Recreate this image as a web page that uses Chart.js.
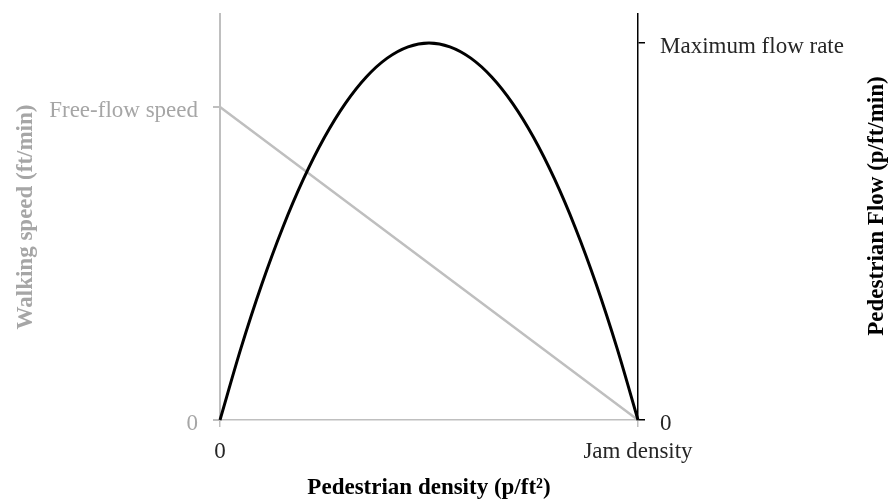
<!DOCTYPE html>
<html>
<head>
<meta charset="utf-8">
<script src="https://cdn.jsdelivr.net/npm/chart.js@4.4.0/dist/chart.umd.min.js"></script>
<style>
    html, body { margin: 0; padding: 0; background: #fff; }
    #wrap { width: 891px; height: 499px; position: relative; }
</style>
</head>
<body>
<div id="wrap"><canvas id="chart"></canvas></div>
<script>
// density as a fraction of jam density
const density = [0, 0.05, 0.1, 0.15, 0.2, 0.25, 0.3, 0.35, 0.4, 0.45, 0.5,
                 0.55, 0.6, 0.65, 0.7, 0.75, 0.8, 0.85, 0.9, 0.95, 1];
// flow as a fraction of maximum flow rate
const flow = [0, 0.19, 0.36, 0.51, 0.64, 0.75, 0.84, 0.91, 0.96, 0.99, 1,
              0.99, 0.96, 0.91, 0.84, 0.75, 0.64, 0.51, 0.36, 0.19, 0];
// speed as a fraction of free-flow speed
const speedDensity = [0, 1];
const speed = [1, 0];

const xTickLabels = ['0', 'Jam density'];
const speedTickLabels = ['0', 'Free-flow speed'];
const flowTickLabels = ['0', 'Maximum flow rate'];

const serif = '"Liberation Serif", "Times New Roman", serif';
const gray = '#bfbfbf';
const grayText = '#a6a6a6';

function twoTicks(scale) {
    scale.ticks = [{ value: 0 }, { value: 1 }];
}

// right axis title reads bottom-to-top in the original, so draw it by hand
const rightTitle = {
    id: 'rightTitle',
    afterDraw(chart) {
        const opts = chart.options.scales.y1.title;
        const ctx = chart.ctx;
        ctx.save();
        ctx.translate(chart.width - 14, 206);
        ctx.rotate(-Math.PI / 2);
        ctx.font = 'bold 23px ' + serif;
        ctx.fillStyle = '#000';
        ctx.textAlign = 'center';
        ctx.textBaseline = 'middle';
        ctx.fillText(opts.text, 0, 0);
        ctx.restore();
    }
};

new Chart(document.getElementById('chart'), {
    type: 'line',
    data: {
        datasets: [
            {
                label: 'Flow',
                data: density.map((d, i) => ({ x: d, y: flow[i] })),
                yAxisID: 'y1',
                borderColor: '#000',
                borderWidth: 3,
                pointRadius: 0,
                cubicInterpolationMode: 'monotone',
                clip: false
            },
            {
                label: 'Speed',
                data: speedDensity.map((d, i) => ({ x: d, y: speed[i] })),
                yAxisID: 'y',
                borderColor: gray,
                borderWidth: 2.5,
                pointRadius: 0,
                clip: false
            }
        ]
    },
    options: {
        responsive: true,
        maintainAspectRatio: false,
        animation: false,
        layout: { padding: { top: 14, left: 0, right: 0, bottom: 0 } },
        plugins: {
            legend: { display: false },
            tooltip: { enabled: false }
        },
        scales: {
            x: {
                type: 'linear',
                min: 0,
                max: 1,
                afterBuildTicks: twoTicks,
                afterFit: s => { s.height = 79; s.paddingLeft = 0; s.paddingRight = 0; },
                grid: { drawOnChartArea: false, tickLength: 7, color: gray, lineWidth: 1.5 },
                border: { color: gray, width: 1.5 },
                ticks: {
                    autoSkip: false,
                    maxRotation: 0,
                    padding: 11,
                    color: '#262626',
                    font: { family: serif, size: 23 },
                    callback: (v, i) => xTickLabels[i]
                },
                title: {
                    display: true,
                    text: 'Pedestrian density (p/ft²)',
                    color: '#000',
                    font: { family: serif, size: 23, weight: 'bold', lineHeight: 1 },
                    padding: { top: 0, bottom: -1 }
                }
            },
            y: {
                position: 'left',
                min: 0,
                max: 1.297,
                afterBuildTicks: twoTicks,
                afterFit: s => { s.width = 220; s.paddingTop = 0; s.paddingBottom = 0; },
                grid: { drawOnChartArea: false, tickLength: 7, color: gray, lineWidth: 2 },
                border: { color: gray, width: 2 },
                ticks: {
                    padding: 15,
                    labelOffset: 4,
                    color: grayText,
                    font: { family: serif, size: 23 },
                    callback: (v, i) => speedTickLabels[i]
                },
                title: {
                    display: true,
                    text: 'Walking speed (ft/min)',
                    color: grayText,
                    font: { family: serif, size: 23, weight: 'bold', lineHeight: 1 },
                    padding: { top: 15, bottom: 0 }
                }
            },
            y1: {
                position: 'right',
                min: 0,
                max: 1.077,
                afterBuildTicks: twoTicks,
                afterFit: s => { s.width = 253; s.paddingTop = 0; s.paddingBottom = 0; },
                grid: { drawOnChartArea: false, tickLength: 7, color: '#000', lineWidth: 1.5 },
                border: { color: '#000', width: 1.5 },
                ticks: {
                    padding: 15,
                    labelOffset: 4,
                    color: '#262626',
                    font: { family: serif, size: 23 },
                    callback: (v, i) => flowTickLabels[i]
                },
                title: {
                    display: false,
                    text: 'Pedestrian Flow (p/ft/min)'
                }
            }
        }
    },
    plugins: [rightTitle]
});
</script>
</body>
</html>
